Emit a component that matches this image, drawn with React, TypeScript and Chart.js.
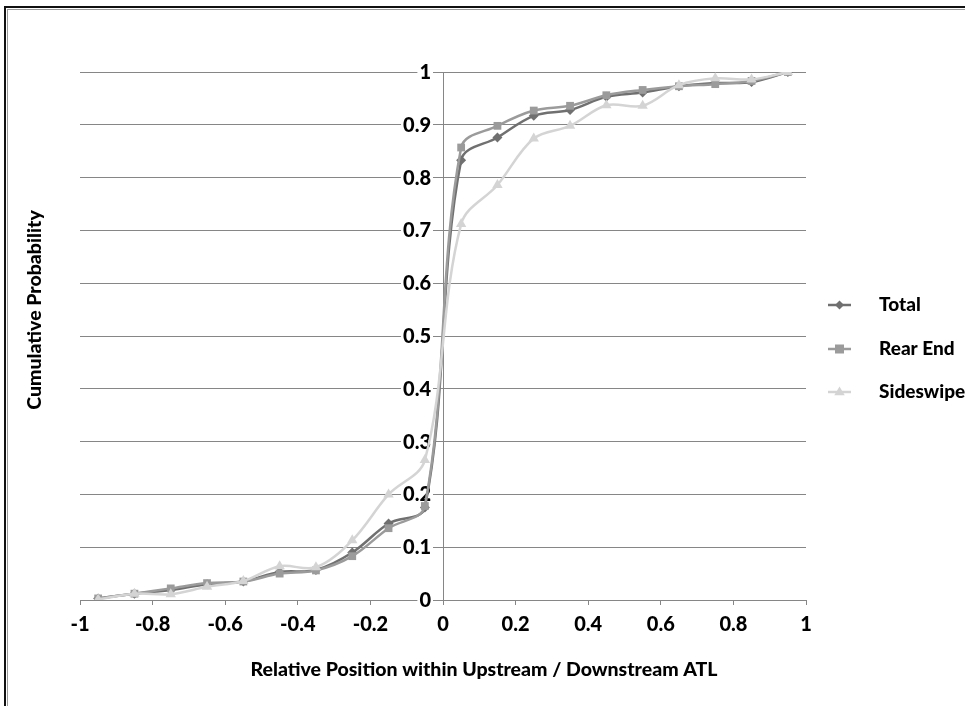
import React, { useEffect, useRef } from "react";
import { Chart, registerables } from "chart.js";

Chart.register(...registerables);

const xPositions = [-0.95, -0.85, -0.75, -0.65, -0.55, -0.45, -0.35, -0.25, -0.15, -0.05, 0.05, 0.15, 0.25, 0.35, 0.45, 0.55, 0.65, 0.75, 0.85, 0.95];
const totalValues = [0.003, 0.012, 0.019, 0.03, 0.035, 0.053, 0.057, 0.09, 0.145, 0.175, 0.833, 0.876, 0.917, 0.928, 0.953, 0.961, 0.973, 0.979, 0.981, 1];
const rearEndValues = [0.003, 0.012, 0.022, 0.032, 0.035, 0.05, 0.056, 0.083, 0.136, 0.178, 0.857, 0.898, 0.927, 0.936, 0.956, 0.966, 0.973, 0.977, 0.983, 1];
const sideswipeValues = [0.001, 0.012, 0.011, 0.025, 0.036, 0.064, 0.062, 0.113, 0.2, 0.265, 0.712, 0.786, 0.874, 0.898, 0.937, 0.936, 0.975, 0.988, 0.986, 1];
const seriesNames = ["Total", "Rear End", "Sideswipe"];
const xTitle = "Relative Position within Upstream / Downstream ATL";
const yTitle = "Cumulative Probability";

const FONT = "Lato, 'Open Sans', sans-serif";
const colors = ["#707070", "#9b9b9b", "#d4d4d4"];
const styles = ["rectRot", "rect", "triangle"];
const radii = [5, 5.5, 6];

const fmt = (v: any) => String(Math.round(Number(v) * 10) / 10);

function drawMarker(ctx: CanvasRenderingContext2D, style: string, x: number, y: number, r: number, color: string) {
  ctx.save();
  ctx.fillStyle = color;
  ctx.beginPath();
  if (style === "rectRot") {
    ctx.moveTo(x, y - r);
    ctx.lineTo(x + r, y);
    ctx.lineTo(x, y + r);
    ctx.lineTo(x - r, y);
  } else if (style === "rect") {
    const s = r * 0.9;
    ctx.rect(x - s, y - s, 2 * s, 2 * s);
  } else {
    ctx.moveTo(x, y - r);
    ctx.lineTo(x + r * 0.95, y + r * 0.6);
    ctx.lineTo(x - r * 0.95, y + r * 0.6);
  }
  ctx.closePath();
  ctx.fill();
  ctx.restore();
}

const overlayPlugin = {
  id: "overlay",
  beforeDraw(chart: any) {
    const ctx = chart.ctx;
    ctx.save();
    ctx.fillStyle = "#ffffff";
    ctx.fillRect(0, 0, chart.width, chart.height);
    ctx.restore();
  },
  beforeDatasetsDraw(chart: any) {
    // y tick labels sitting left of the y axis that crosses at x = 0
    const ctx = chart.ctx;
    const ys = chart.scales.y;
    const xs = chart.scales.x;
    const axisX = xs.getPixelForValue(0);
    ctx.save();
    ctx.font = `900 20px ${FONT}`;
    ctx.textAlign = "right";
    ctx.textBaseline = "middle";
    ys.ticks.forEach((t: any) => {
      const y = ys.getPixelForValue(t.value);
      const label = fmt(t.value);
      const w = ctx.measureText(label).width;
      const right = axisX - 12;
      ctx.fillStyle = "#ffffff";
      ctx.fillRect(right - w - 2, y - 3, w + 4, 6);
      ctx.fillStyle = "#000";
      ctx.fillText(label, right, y + 0.5);
    });
    ctx.restore();
  },
  afterDraw(chart: any) {
    const ctx = chart.ctx;
    ctx.save();
    ctx.fillStyle = "#000";
    ctx.font = `900 19.5px ${FONT}`;
    ctx.textAlign = "center";
    ctx.textBaseline = "middle";
    ctx.fillText(xTitle, 484, 670);
    ctx.save();
    ctx.translate(35, 310);
    ctx.rotate(-Math.PI / 2);
    ctx.fillText(yTitle, 0, 0);
    ctx.restore();
    const rows = [305, 349, 392];
    seriesNames.forEach((name, i) => {
      const y = rows[i];
      ctx.strokeStyle = colors[i];
      ctx.lineWidth = 2.5;
      ctx.beginPath();
      ctx.moveTo(828, y);
      ctx.lineTo(851, y);
      ctx.stroke();
      drawMarker(ctx, styles[i], 839.5, y, radii[i] - 0.5, colors[i]);
      ctx.fillStyle = "#000";
      ctx.textAlign = "left";
      ctx.font = `900 19px ${FONT}`;
      ctx.fillText(name, 879, y);
    });
    ctx.restore();
  },
};

export default function App() {
  const ref = useRef<HTMLCanvasElement>(null);
  useEffect(() => {
    document.body.style.margin = "0";
    const valuesList = [totalValues, rearEndValues, sideswipeValues];
    const chart = new Chart(ref.current!, {
      type: "line",
      data: {
        datasets: seriesNames.map((name, i) => ({
          label: name,
          data: xPositions.map((x, j) => ({ x, y: valuesList[i][j] })),
          borderColor: colors[i],
          backgroundColor: colors[i],
          pointBackgroundColor: colors[i],
          pointBorderColor: colors[i],
          pointStyle: styles[i] as any,
          pointRadius: radii[i],
          pointBorderWidth: 0,
          borderWidth: 2.5,
          tension: 0.35,
          fill: false,
          order: 2 - i,
        })),
      },
      options: {
        animation: false,
        responsive: false,
        devicePixelRatio: 1,
        layout: { padding: { left: 80, right: 159, top: 72, bottom: 0 } },
        plugins: { legend: { display: false }, tooltip: { enabled: false } },
        scales: {
          x: {
            type: "linear",
            min: -1,
            max: 1,
            afterFit: (s: any) => {
              s.height = 106;
            },
            border: { display: true, color: "#868686", width: 1 },
            grid: { drawOnChartArea: false, drawTicks: true, tickLength: 5, color: "#868686" },
            ticks: {
              stepSize: 0.2,
              color: "#000",
              padding: 8,
              font: { family: FONT, size: 20, weight: "900" },
              callback: fmt,
            },
          },
          y: {
            type: "linear",
            position: { x: 0 } as any,
            min: 0,
            max: 1,
            border: { display: true, color: "#868686", width: 1 },
            grid: { color: "#868686", drawTicks: false },
            ticks: {
              stepSize: 0.1,
              display: false,
            },
          },
        },
      },
      plugins: [overlayPlugin],
    });
    return () => chart.destroy();
  }, []);
  return (
    <div style={{ position: "fixed", left: 0, top: 0, width: 965, height: 706, overflow: "hidden", background: "#fff" }}>
      <canvas ref={ref} width={965} height={706} style={{ position: "absolute", left: 0, top: 0, width: 965, height: 706 }} />
      <div style={{ position: "absolute", left: 4, top: 6, width: 2000, height: 2000, border: "2px solid #111", pointerEvents: "none" }}>
        <div style={{ position: "absolute", left: 1, top: 1, right: 0, bottom: 0, border: "1px solid #9a9a9a" }} />
      </div>
    </div>
  );
}
